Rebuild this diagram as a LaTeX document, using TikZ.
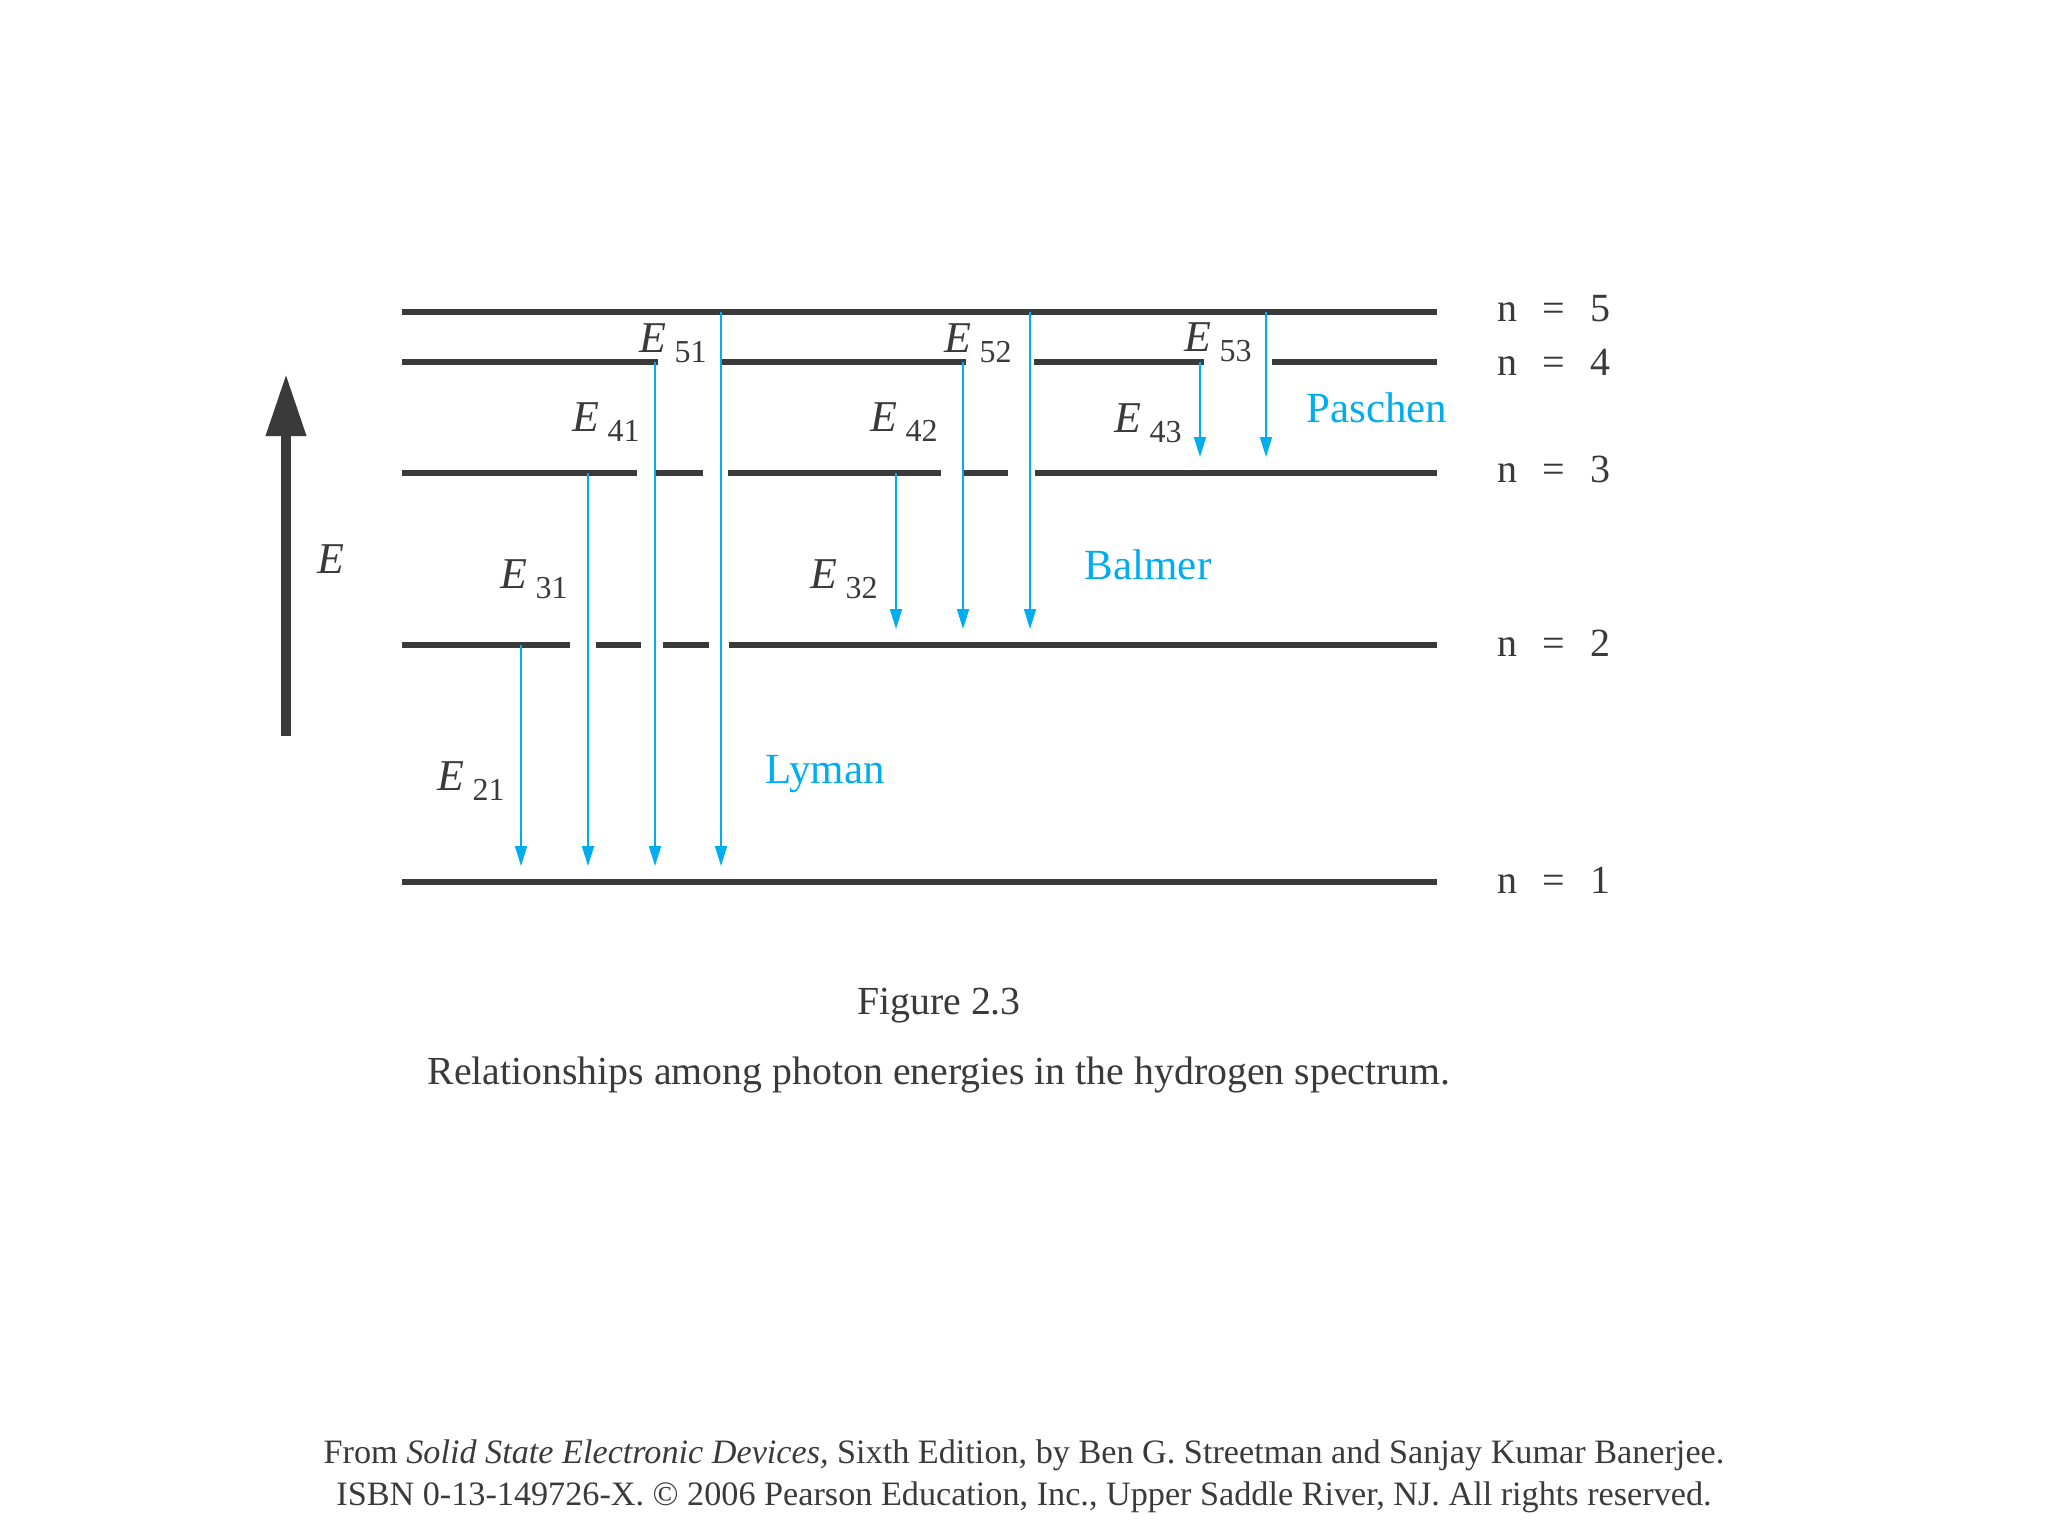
\documentclass[tikz,border=0pt]{standalone}
\usepackage{fontspec}
\setmainfont{Liberation Serif}
\usetikzlibrary{arrows.meta}
\definecolor{ink}{HTML}{3A3A3A}
\definecolor{cyanline}{HTML}{00AEEF}
\newcommand{\elab}[1]{\textit{E}\hspace{4pt}\raisebox{-5pt}{\fontsize{16}{16}\selectfont #1}}
\tikzset{
  level/.style={draw=ink, line width=2.6pt},
  trans/.style={draw=cyanline, line width=0.9pt, -{Triangle[length=10pt,width=6pt]}},
  elabel/.style={text=ink, font=\fontsize{22}{22}\selectfont, anchor=east, inner sep=0pt},
  series/.style={text=cyanline, font=\fontsize{21.5}{21.5}\selectfont, inner sep=0pt},
  nlabel/.style={text=ink, font=\fontsize{20}{20}\selectfont, inner sep=0pt},
  caption/.style={text=ink, font=\fontsize{19.9}{19.9}\selectfont, inner sep=0pt},
  credit/.style={text=ink, font=\fontsize{17.1}{17.1}\selectfont, inner sep=0pt},
}
\begin{document}
\begin{tikzpicture}[x=0.5pt,y=-0.5pt]
\useasboundingbox (0,0) rectangle (2048,1536);
% level heights
\def\yA{882}\def\yB{645}\def\yC{473}\def\yD{362}\def\yE{312}
% level lines
\draw[level] (402,\yE) -- (1437,\yE);
\draw[level] (402,\yD) -- (658,\yD);
\draw[level] (721,\yD) -- (966,\yD);
\draw[level] (1034,\yD) -- (1204,\yD);
\draw[level] (1272,\yD) -- (1437,\yD);
\draw[level] (402,\yC) -- (637,\yC);
\draw[level] (655,\yC) -- (703,\yC);
\draw[level] (728,\yC) -- (941,\yC);
\draw[level] (964,\yC) -- (1008,\yC);
\draw[level] (1035,\yC) -- (1437,\yC);
\draw[level] (402,\yB) -- (570,\yB);
\draw[level] (596,\yB) -- (641,\yB);
\draw[level] (663,\yB) -- (709,\yB);
\draw[level] (729,\yB) -- (1437,\yB);
\draw[level] (402,\yA) -- (1437,\yA);
% transition endpoints
\coordinate (s21) at (521,\yB); \coordinate (t21) at (521,\yA-16);
\coordinate (s31) at (588,\yC); \coordinate (t31) at (588,\yA-16);
\coordinate (s41) at (655,\yD); \coordinate (t41) at (655,\yA-16);
\coordinate (s51) at (721,\yE); \coordinate (t51) at (721,\yA-16);
\coordinate (s32) at (896,\yC); \coordinate (t32) at (896,\yB-16);
\coordinate (s42) at (963,\yD); \coordinate (t42) at (963,\yB-16);
\coordinate (s52) at (1030,\yE); \coordinate (t52) at (1030,\yB-16);
\coordinate (s43) at (1200,\yD); \coordinate (t43) at (1200,\yC-16);
\coordinate (s53) at (1266,\yE); \coordinate (t53) at (1266,\yC-16);
\foreach \k in {21,31,41,51,32,42,52,43,53} {\draw[trans] (s\k) -- (t\k);}
% transition labels
\node[elabel] (l51) at (707,343) {\elab{51}};
\node[elabel] (l52) at (1012,343) {\elab{52}};
\node[elabel] (l53) at (1252,342) {\elab{53}};
\node[elabel] (l41) at (640,422) {\elab{41}};
\node[elabel] (l42) at (938,422) {\elab{42}};
\node[elabel] (l43) at (1182,423) {\elab{43}};
\node[elabel] (l31) at (568,579) {\elab{31}};
\node[elabel] (l32) at (878,579) {\elab{32}};
\node[elabel] (l21) at (505,781) {\elab{21}};
% series names
\node[series] (pas) at (1377,408) {Paschen};
\node[series] (bal) at (1148,565) {Balmer};
\node[series] (lym) at (825,774) {Lyman};
% level names
\foreach \nm/\yy in {5/\yE,4/\yD+4,3/\yC,2/\yB+2,1/\yA+2} {
  \node[nlabel, anchor=base] (n\nm) at (1507,\yy+9) {n};
  \node[nlabel, anchor=base] (eq\nm) at (1554,\yy+9) {=};
  \node[nlabel, anchor=base] (d\nm) at (1600,\yy+9) {\nm};
}
% energy axis
\coordinate (ebot) at (286,736);
\coordinate (etop) at (286,374);
\draw[draw=ink, line width=5pt, -{Triangle[length=31pt,width=19pt]}] (ebot) -- (etop);
\node[text=ink, font=\fontsize{22}{22}\selectfont\itshape, inner sep=0pt] (elbl) at (331,559) {E};
% caption
\node[caption] (fig) at (939,1006) {Figure 2.3};
\node[caption] (cap) at (939,1075) {Relationships among photon energies in the hydrogen spectrum.};
\node[credit] (cr1) at (1024,1455) {From \textit{Solid State Electronic Devices,} Sixth Edition, by Ben G. Streetman and Sanjay Kumar Banerjee.};
\node[credit] (cr2) at (1024,1497) {ISBN 0-13-149726-X. © 2006 Pearson Education, Inc., Upper Saddle River, NJ. All rights reserved.};
\end{tikzpicture}
\end{document}
